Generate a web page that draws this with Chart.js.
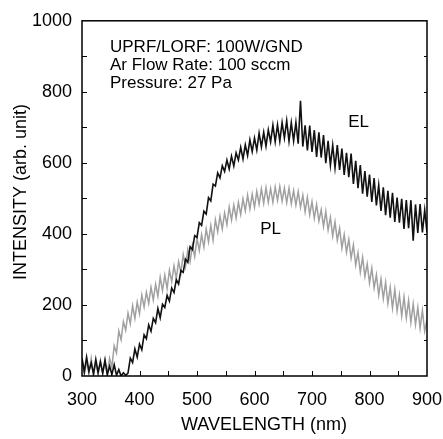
<!DOCTYPE html>
<html>
<head>
    <title>EL / PL spectra</title>
    <script src="https://cdn.jsdelivr.net/npm/chart.js"></script>
    <style>
        body { margin: 0; background: #fff; }
        #wrap { width: 443px; height: 439px; }
    </style>
</head>
<body>
    <div id="wrap"><canvas id="specChart" width="443" height="439"></canvas></div>
    <script>
        // wavelength grid: 300..900 nm, one reading every 4 nm
        const wlStart = 300;
        const wlStep = 4;

        // EL (black)
        const elValues = [
            50, 12, 53, 13, 37, 6, 47, 10, 40, 8,
            45, 3, 28, 4, 32, 2, 18, 0, 9, 2,
            8, 50, 38, 76, 53, 90, 74, 116, 105, 144,
            126, 162, 150, 190, 164, 202, 193, 227, 211, 248,
            235, 271, 259, 297, 292, 329, 320, 364, 356, 395,
            390, 432, 424, 464, 456, 502, 493, 540, 535, 572,
            558, 592, 576, 608, 583, 619, 591, 628, 608, 644,
            611, 651, 621, 665, 632, 670, 636, 684, 645, 686,
            647, 693, 659, 706, 659, 707, 661, 713, 670, 719,
            661, 713, 662, 714, 654, 775, 646, 706, 635, 705,
            631, 692, 617, 686, 615, 678, 599, 662, 593, 650,
            586, 650, 580, 640, 566, 628, 560, 626, 541, 606,
            529, 594, 513, 577, 505, 567, 490, 557, 480, 537,
            465, 531, 453, 521, 446, 516, 434, 502, 432, 499,
            414, 495, 416, 495, 381, 483, 403, 484, 404, 467,
            404
        ];

        // PL (grey)
        const plValues = [
            47, 4, 42, 7, 50, 2, 37, 4, 44, 6,
            42, 6, 50, 25, 85, 65, 127, 102, 153, 129,
            177, 147, 198, 162, 208, 175, 228, 194, 236, 204,
            250, 214, 258, 224, 278, 240, 284, 246, 298, 266,
            310, 275, 322, 291, 342, 308, 356, 322, 368, 336,
            388, 353, 398, 363, 414, 378, 424, 382, 440, 406,
            450, 414, 459, 426, 476, 439, 482, 445, 489, 455,
            499, 465, 509, 470, 512, 475, 520, 484, 527, 487,
            530, 489, 528, 489, 532, 494, 534, 492, 529, 488,
            529, 485, 522, 481, 519, 475, 509, 462, 503, 454,
            491, 444, 483, 436, 468, 421, 463, 411, 447, 394,
            434, 382, 416, 360, 398, 348, 385, 332, 369, 312,
            347, 292, 334, 280, 316, 262, 304, 248, 285, 228,
            273, 218, 264, 204, 250, 191, 244, 183, 228, 169,
            223, 163, 213, 151, 203, 145, 193, 134, 185, 126,
            158
        ];

        const wavelengths = elValues.map((v, i) => wlStart + i * wlStep);

        const xTickLabels = [300, 400, 500, 600, 700, 800, 900];
        const yTickLabels = [0, 200, 400, 600, 800, 1000];
        const xMinorTicks = [350, 400, 450, 500, 550, 600, 650, 700, 750, 800, 850];
        const yMinorTicks = [100, 200, 300, 400, 500, 600, 700, 800, 900];

        const infoLines = ['UPRF/LORF: 100W/GND', 'Ar Flow Rate: 100 sccm', 'Pressure: 27 Pa'];
        const curveLabels = [
            { text: 'EL', x: 763, y: 700 },
            { text: 'PL', x: 610, y: 400 }
        ];

        const FONT = '"Liberation Sans", Arial, sans-serif';

        // frame, inward ticks, axis titles and the text notes
        const decorations = {
            id: 'decorations',
            afterDraw(chart) {
                const { ctx, chartArea: a, scales: { x, y } } = chart;
                ctx.save();
                ctx.strokeStyle = '#000';
                ctx.lineWidth = 1.5;
                ctx.strokeRect(a.left, a.top, a.right - a.left, a.bottom - a.top);

                ctx.lineWidth = 1;
                ctx.beginPath();
                xMinorTicks.forEach(v => {
                    const px = Math.round(x.getPixelForValue(v)) + 0.5;
                    ctx.moveTo(px, a.bottom);
                    ctx.lineTo(px, a.bottom - 5);
                });
                yMinorTicks.forEach(v => {
                    const py = Math.round(y.getPixelForValue(v)) + 0.5;
                    ctx.moveTo(a.left, py);
                    ctx.lineTo(a.left + 5, py);
                    ctx.moveTo(a.right, py);
                    ctx.lineTo(a.right - 3, py);
                });
                ctx.stroke();

                ctx.fillStyle = '#000';
                ctx.font = '17px ' + FONT;
                ctx.textAlign = 'left';
                ctx.textBaseline = 'alphabetic';
                infoLines.forEach((t, i) => ctx.fillText(t, 110, 52 + i * 18));

                curveLabels.forEach(l => {
                    ctx.fillText(l.text, x.getPixelForValue(l.x), y.getPixelForValue(l.y));
                });

                ctx.font = '18px ' + FONT;
                ctx.textAlign = 'center';
                ctx.fillText('WAVELENGTH (nm)', 264, 430);

                ctx.translate(26, 192);
                ctx.rotate(-Math.PI / 2);
                ctx.fillText('INTENSITY (arb. unit)', 0, 0);
                ctx.restore();
            }
        };

        const ctx = document.getElementById('specChart').getContext('2d');
        const specChart = new Chart(ctx, {
            type: 'line',
            data: {
                labels: wavelengths,
                datasets: [{
                    label: 'EL',
                    data: elValues,
                    borderColor: '#111',
                    borderWidth: 1.6,
                    pointRadius: 0,
                    tension: 0
                }, {
                    label: 'PL',
                    data: plValues,
                    borderColor: '#a0a0a0',
                    borderWidth: 1.5,
                    pointRadius: 0,
                    tension: 0
                }]
            },
            options: {
                responsive: false,
                animation: false,
                layout: { padding: { top: 19, right: 0, left: 0, bottom: 0 } },
                plugins: { legend: { display: false }, tooltip: { enabled: false } },
                scales: {
                    x: {
                        type: 'linear',
                        min: 300,
                        max: 900,
                        afterFit(s) { s.height = 63; s.paddingRight = 16; s.paddingLeft = 0; },
                        afterBuildTicks(s) { s.ticks = xTickLabels.map(v => ({ value: v })); },
                        grid: { display: false, drawTicks: false },
                        border: { display: false },
                        ticks: { color: '#000', padding: 13, maxRotation: 0, callback: v => String(v), font: { family: FONT, size: 18 } }
                    },
                    y: {
                        min: 0,
                        max: 1000,
                        afterFit(s) { s.width = 82; },
                        afterBuildTicks(s) { s.ticks = yTickLabels.map(v => ({ value: v })); },
                        grid: { display: false, drawTicks: false },
                        border: { display: false },
                        ticks: { color: '#000', padding: 10, callback: v => String(v), font: { family: FONT, size: 18 } }
                    }
                }
            },
            plugins: [decorations]
        });
    </script>
</body>
</html>
